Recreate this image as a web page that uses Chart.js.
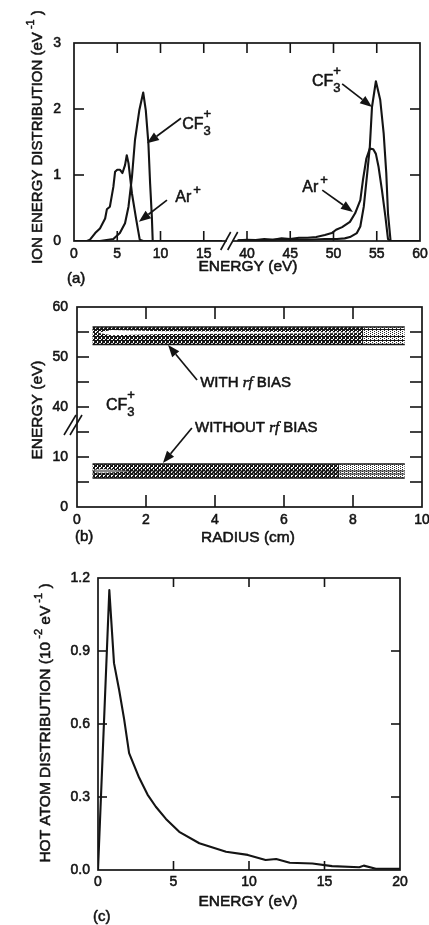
<!DOCTYPE html>
<html>
<head>
<meta charset="utf-8">
<script src="https://cdn.jsdelivr.net/npm/chart.js@4.4.1/dist/chart.umd.min.js"></script>
<style>
  html, body { margin: 0; padding: 0; background: #fff; }
  #figure { position: relative; width: 429px; height: 925px; overflow: hidden; background: #fff; }
  #figure canvas { position: absolute; left: 0; }
</style>
</head>
<body>
<div id="figure">
  <canvas id="ionChart" width="429" height="290" style="top:0"></canvas>
  <canvas id="radiusChart" width="429" height="270" style="top:290px"></canvas>
  <canvas id="hotChart" width="429" height="365" style="top:560px"></canvas>
</div>
<script>
// ---------- (a) ion energy distributions (eV, eV^-1) ----------
const arLowEnergy  = [0, 1.5, 1.85, 2.45, 3.0, 3.6, 3.8, 4.15, 4.55, 4.75, 5.0, 5.3, 5.6, 5.9, 6.1, 6.3, 6.7, 7.2, 7.6, 8.0, 17];
const arLowDist    = [0, 0, 0.02, 0.12, 0.19, 0.34, 0.48, 0.52, 0.82, 1.05, 1.08, 1.08, 1.03, 1.15, 1.30, 1.18, 0.72, 0.32, 0.02, 0, 0];
const cf3LowEnergy = [0, 3.0, 4.55, 5.3, 5.9, 6.3, 6.7, 7.05, 7.55, 8.0, 8.3, 8.6, 8.8, 9.0, 9.1, 17];
const cf3LowDist   = [0, 0, 0.03, 0.12, 0.27, 0.52, 0.97, 1.53, 1.98, 2.25, 1.98, 1.48, 0.87, 0.37, 0, 0];
const arHighEnergy = [39, 40, 41, 42, 43, 44, 45, 46, 47, 48, 49, 49.8, 50.3, 51, 51.9, 52.5, 53.1, 53.4, 53.8, 54.2, 54.6, 54.9, 55.2, 55.6, 56.0, 56.3, 56.6, 60];
const arHighDist   = [0.01, 0.02, 0.015, 0.03, 0.02, 0.04, 0.03, 0.05, 0.05, 0.06, 0.09, 0.12, 0.17, 0.21, 0.29, 0.42, 0.62, 0.92, 1.25, 1.40, 1.39, 1.32, 1.13, 0.77, 0.37, 0.03, 0, 0];
const cf3HighEnergy = [39, 41, 43, 45, 47, 49, 50.4, 51.3, 51.9, 52.7, 53.1, 53.5, 53.9, 54.2, 54.45, 54.9, 55.4, 55.8, 56.1, 56.3, 56.6, 60];
const cf3HighDist   = [0.005, 0.01, 0.02, 0.025, 0.02, 0.03, 0.03, 0.04, 0.06, 0.12, 0.22, 0.52, 1.03, 1.43, 2.03, 2.42, 2.14, 1.63, 1.03, 0.42, 0, 0];

// ---------- (b) CF3+ energy versus radius (cm, eV) ----------
const radiusSpan = [0.45, 9.5];
const withBiasEdges = [56.0, 52.5];
const withBiasContours = [55.5, 54.1, 53.3];
const withBiasCoreRadius = [0.45, 8.3];
const withBiasPeakRadius = [0.6, 1.0, 2.5, 5.0, 8.2];
const withBiasPeakTop    = [54.85, 55.4, 55.15, 55.05, 54.9];
const withBiasPeakBottom = [54.85, 54.35, 54.6, 54.65, 54.8];
const noBiasEdges = [8.6, 5.8];
const noBiasContours = [7.2, 6.6];
const noBiasCoreRadius = [0.45, 7.6];
const noBiasPeakRadius = [0.5, 0.75, 1.5];
const noBiasPeakTop    = [7.45, 7.55, 7.2];
const noBiasPeakBottom = [6.95, 6.85, 7.1];

// ---------- (c) hot atom distribution (eV, 10^-2 eV^-1) ----------
const hotEnergy = [0, 0.75, 1.06, 1.4, 1.73, 2.06, 2.72, 3.28, 3.83, 4.5, 5.38, 6.71, 8.48, 9.92, 11.1, 11.8, 12.7, 14.2, 15.5, 17.3, 17.6, 18.4, 20];
const hotDist   = [0, 1.15, 0.85, 0.74, 0.62, 0.48, 0.38, 0.31, 0.26, 0.21, 0.157, 0.11, 0.075, 0.062, 0.041, 0.045, 0.03, 0.027, 0.016, 0.011, 0.018, 0.005, 0.005];

const INK = '#141414';
const FONT = '"Liberation Sans", Arial, Helvetica, sans-serif';
const TEXT_STROKE = 0.55;

// Broken energy axis: everything above the break is shifted down by 20 eV.
const GAP = 20;
const toAxis = e => (e < 30 ? e : e - GAP);
const fromAxis = v => (v < 20 ? v : v + GAP);

function curve(xs, ys, map) {
  return {
    data: xs.map((x, i) => ({ x: map(x), y: ys[i] })),
    borderColor: INK, borderWidth: 2.1, pointRadius: 0, fill: false, tension: 0,
    borderJoinStyle: 'round', borderCapStyle: 'round'
  };
}

function pattern(size, cells, color) {
  const c = document.createElement('canvas');
  c.width = c.height = size;
  const g = c.getContext('2d');
  g.fillStyle = color;
  cells.forEach(([x, y]) => g.fillRect(x, y, 1, 1));
  return g.createPattern(c, 'repeat');
}
// cross-hatched screen for the dense part of the contours
const hatchCells = [];
for (let y = 0; y < 4; y++) for (let x = 0; x < 4; x++) if (x === y || x + y === 3 || (x + y) % 2 === 0 && y === 0) hatchCells.push([x, y]);
const DENSE = pattern(4, hatchCells, '#161616');
const LIGHT = pattern(4, [[0, 0], [2, 1], [0, 2], [2, 3]], '#2a2a2a');

function bandFill(r, top, bottom, fillStyle, order) {
  return [
    { data: r.map((x, i) => ({ x, y: toAxis(top[i]) })), fill: '+1', backgroundColor: fillStyle,
      borderColor: 'rgba(0,0,0,0)', borderWidth: 1, pointRadius: 0, tension: 0, order },
    { data: r.map((x, i) => ({ x, y: toAxis(bottom[i]) })), fill: false,
      borderColor: 'rgba(0,0,0,0)', borderWidth: 1, pointRadius: 0, tension: 0, order }
  ];
}
function level(span, e, w) {
  return { data: [{ x: span[0], y: toAxis(e) }, { x: span[1], y: toAxis(e) }],
    borderColor: INK, borderWidth: w, pointRadius: 0, fill: false, order: 0 };
}
const flat = (span, e) => span.map(() => e);

// ---------- drawing helpers ----------
function richText(ctx, parts, x, y, align) {
  const fontOf = p => `${p.italic ? 'italic ' : ''}${p.size}px ${p.family || FONT}`;
  let total = 0;
  parts.forEach(p => { ctx.font = fontOf(p); p.w = ctx.measureText(p.t).width; if (!p.stack) total += p.w + (p.gap || 0); });
  let cx = align === 'center' ? x - total / 2 : x;
  ctx.save();
  ctx.textAlign = 'left';
  ctx.fillStyle = INK; ctx.strokeStyle = INK; ctx.lineWidth = TEXT_STROKE; ctx.lineJoin = 'round';
  parts.forEach(p => {
    ctx.font = fontOf(p);
    ctx.fillText(p.t, cx, y + (p.dy || 0));
    ctx.strokeText(p.t, cx, y + (p.dy || 0));
    if (!p.stack) cx += p.w + (p.gap || 0);
  });
  ctx.restore();
}
function rotatedTitle(ctx, parts, cx, cy) {
  ctx.save();
  ctx.translate(cx, cy);
  ctx.rotate(-Math.PI / 2);
  ctx.textBaseline = 'middle';
  richText(ctx, parts, 0, 0, 'center');
  ctx.restore();
}
function arrow(ctx, x0, y0, x1, y1) {
  const a = Math.atan2(y1 - y0, x1 - x0), L = 12, W = 4.6;
  const bx = x1 - L * Math.cos(a), by = y1 - L * Math.sin(a);
  ctx.beginPath(); ctx.moveTo(x0, y0); ctx.lineTo(bx, by); ctx.stroke();
  ctx.beginPath();
  ctx.moveTo(x1, y1);
  ctx.lineTo(bx + W * Math.sin(a), by - W * Math.cos(a));
  ctx.lineTo(bx - W * Math.sin(a), by + W * Math.cos(a));
  ctx.closePath(); ctx.fill();
}
function line(ctx, x0, y0, x1, y1) { ctx.beginPath(); ctx.moveTo(x0, y0); ctx.lineTo(x1, y1); ctx.stroke(); }

const cf3Parts = [{ t: 'CF', size: 16 }, { t: '3', size: 13, dy: 6, stack: true }, { t: '+', size: 13, dy: -11 }];
const arParts = [{ t: 'Ar', size: 16, gap: 2 }, { t: '+', size: 13, dy: -8 }];

// Box, inward tick marks on all four sides, then panel-specific overlays.
function framePlugin(tickLen, overlay) {
  return {
    id: 'frame',
    afterDatasetsDraw(chart) {
      const { ctx, chartArea: a, scales: { x, y } } = chart;
      ctx.save();
      ctx.strokeStyle = INK; ctx.fillStyle = INK;
      ctx.lineWidth = 1.7; ctx.lineCap = 'butt';
      ctx.strokeRect(a.left, a.top, a.right - a.left, a.bottom - a.top);
      ctx.lineWidth = 1.6;
      x.ticks.forEach(t => {
        if (t.value <= x.min || t.value >= x.max) return;
        const p = x.getPixelForValue(t.value);
        line(ctx, p, a.bottom, p, a.bottom - tickLen);
        line(ctx, p, a.top, p, a.top + tickLen);
      });
      y.ticks.forEach(t => {
        if (t.value <= y.min || t.value >= y.max) return;
        const p = y.getPixelForValue(t.value);
        line(ctx, a.left, p, a.left + tickLen, p);
        line(ctx, a.right, p, a.right - tickLen, p);
      });
      overlay(ctx, chart, x, y);
      ctx.restore();
    }
  };
}

const tickFont = { family: FONT, size: 14 };
function baseOptions(pad, xHeight, yWidth) {
  const tickStyle = { autoSkip: false, color: INK, font: tickFont, textStrokeColor: INK, textStrokeWidth: TEXT_STROKE };
  return {
    responsive: false, animation: false, events: [],
    layout: { padding: pad },
    plugins: { legend: { display: false }, tooltip: { enabled: false } },
    elements: { line: { tension: 0 } },
    scales: {
      x: { type: 'linear', grid: { display: false, drawTicks: false }, border: { display: false },
        afterFit(s) { s.height = xHeight; s.paddingLeft = 0; s.paddingRight = 0; },
        ticks: Object.assign({ maxRotation: 0, padding: 5 }, tickStyle) },
      y: { type: 'linear', grid: { display: false, drawTicks: false }, border: { display: false },
        afterFit(s) { s.width = yWidth; s.paddingTop = 0; s.paddingBottom = 0; },
        ticks: Object.assign({ padding: 10 }, tickStyle) }
    }
  };
}

// ---------- (a) ----------
const optA = baseOptions({ left: 0, right: 9, top: 43, bottom: 0 }, 49, 74);
Object.assign(optA.scales.x, { min: 0, max: 40 });
Object.assign(optA.scales.x.ticks, { stepSize: 5, callback: v => String(fromAxis(v)) });
Object.assign(optA.scales.y, { min: 0, max: 3 });
Object.assign(optA.scales.y.ticks, { stepSize: 1, padding: 13 });

new Chart(document.getElementById('ionChart'), {
  type: 'line',
  data: { datasets: [
    curve(arLowEnergy, arLowDist, toAxis),
    curve(cf3LowEnergy, cf3LowDist, toAxis),
    curve(arHighEnergy, arHighDist, toAxis),
    curve(cf3HighEnergy, cf3HighDist, toAxis)
  ] },
  options: optA,
  plugins: [framePlugin(10, (ctx, chart, x, y) => {
    const X = v => x.getPixelForValue(v), Y = v => y.getPixelForValue(v);
    // axis break
    const bx = X(18), by = chart.chartArea.bottom;
    ctx.fillStyle = '#fff'; ctx.fillRect(bx - 3, by - 2, 6, 4);
    ctx.fillStyle = INK; ctx.lineWidth = 1.6;
    line(ctx, bx - 9, by + 9, bx + 1, by - 9);
    line(ctx, bx - 2, by + 9, bx + 8, by - 9);
    // species labels and arrows
    ctx.lineWidth = 1.7; ctx.textBaseline = 'alphabetic';
    richText(ctx, cf3Parts, X(12.5), Y(1.70));
    arrow(ctx, X(12.37), Y(1.86), X(8.44), Y(1.48));
    richText(ctx, arParts, X(11.7), Y(0.59));
    arrow(ctx, X(10.75), Y(0.62), X(7.5), Y(0.29));
    richText(ctx, cf3Parts, X(27.5), Y(2.35));
    arrow(ctx, X(31.0), Y(2.38), X(34.45), Y(2.03));
    richText(ctx, arParts, X(26.4), Y(0.74));
    arrow(ctx, X(28.7), Y(0.77), X(32.25), Y(0.44));
    // titles
    ctx.textBaseline = 'middle';
    richText(ctx, [{ t: 'ENERGY (eV)', size: 15.5 }], 248, 267, 'center');
    richText(ctx, [{ t: '(a)', size: 15 }], 67, 279);
    rotatedTitle(ctx, [{ t: 'ION ENERGY DISTRIBUTION (eV', size: 15 }, { t: ' -1', size: 11, dy: -7 }, { t: ' )', size: 15 }], 38, 137);
  })]
});

// ---------- (b) ----------
const optB = baseOptions({ left: 0, right: 7, top: 17, bottom: 0 }, 53, 77);
Object.assign(optB.scales.x, { min: 0, max: 10 });
Object.assign(optB.scales.x.ticks, { stepSize: 2 });
Object.assign(optB.scales.y, { min: 0, max: 40 });
Object.assign(optB.scales.y.ticks, { stepSize: 5, padding: 9, callback: v => (v % 10 === 0 ? String(fromAxis(v)) : '') });

const radiusSets = [
  // contour lines on top
  ...withBiasEdges.map(e => level(radiusSpan, e, 1.6)),
  ...withBiasContours.map(e => level(radiusSpan, e, 1.1)),
  ...noBiasEdges.map(e => level(radiusSpan, e, 1.6)),
  ...noBiasContours.map(e => level(radiusSpan, e, 1.1)),
  // light cores
  ...bandFill(withBiasPeakRadius, withBiasPeakTop, withBiasPeakBottom, '#ffffff', 1),
  ...bandFill(noBiasPeakRadius, noBiasPeakTop, noBiasPeakBottom, '#ffffff', 1),
  // dense shading
  ...bandFill(withBiasCoreRadius, flat(withBiasCoreRadius, withBiasEdges[0]), flat(withBiasCoreRadius, withBiasEdges[1]), DENSE, 2),
  ...bandFill(noBiasCoreRadius, flat(noBiasCoreRadius, noBiasEdges[0]), flat(noBiasCoreRadius, noBiasEdges[1]), DENSE, 2),
  // faint shading across the whole span
  ...bandFill(radiusSpan, flat(radiusSpan, withBiasEdges[0]), flat(radiusSpan, withBiasEdges[1]), LIGHT, 3),
  ...bandFill(radiusSpan, flat(radiusSpan, noBiasEdges[0]), flat(radiusSpan, noBiasEdges[1]), LIGHT, 3)
];

new Chart(document.getElementById('radiusChart'), {
  type: 'line',
  data: { datasets: radiusSets },
  options: optB,
  plugins: [framePlugin(12, (ctx, chart, x, y) => {
    const X = v => x.getPixelForValue(v), Y = v => y.getPixelForValue(v);
    // axis break on the energy axis
    const bx = chart.chartArea.left, by = Y(16.4);
    ctx.lineWidth = 1.6;
    line(ctx, bx - 13, by + 10, bx - 1, by - 10);
    line(ctx, bx - 7, by + 10, bx + 5, by - 10);
    ctx.textBaseline = 'alphabetic';
    richText(ctx, cf3Parts, X(0.84), Y(19.4));
    ctx.lineWidth = 1.7;
    const rf = { t: 'rf', size: 15, italic: true, family: '"Liberation Serif", serif' };
    richText(ctx, [{ t: 'WITH ', size: 15 }, rf, { t: ' BIAS', size: 15 }], X(3.57), Y(24.0));
    arrow(ctx, X(3.48), Y(25.4), X(2.64), Y(32.4));
    richText(ctx, [{ t: 'WITHOUT ', size: 15 }, Object.assign({}, rf), { t: ' BIAS', size: 15 }], X(3.42), Y(15.0));
    arrow(ctx, X(3.33), Y(15.8), X(2.49), Y(8.8));
    ctx.textBaseline = 'middle';
    richText(ctx, [{ t: 'RADIUS (cm)', size: 15.5 }], 248, 248, 'center');
    richText(ctx, [{ t: '(b)', size: 15 }], 75, 247);
    rotatedTitle(ctx, [{ t: 'ENERGY (eV)', size: 15.5 }], 38, 120);
  })]
});

// ---------- (c) ----------
const optC = baseOptions({ left: 0, right: 29, top: 18, bottom: 0 }, 55, 98);
Object.assign(optC.scales.x, { min: 0, max: 20 });
Object.assign(optC.scales.x.ticks, { stepSize: 5, padding: 4 });
Object.assign(optC.scales.y, { min: 0, max: 1.2 });
Object.assign(optC.scales.y.ticks, { stepSize: 0.3, padding: 8, callback: v => v.toFixed(1) });

new Chart(document.getElementById('hotChart'), {
  type: 'line',
  data: { datasets: [curve(hotEnergy, hotDist, e => e)] },
  options: optC,
  plugins: [framePlugin(9, (ctx) => {
    ctx.textBaseline = 'middle';
    richText(ctx, [{ t: 'ENERGY (eV)', size: 15.5 }], 248, 342, 'center');
    richText(ctx, [{ t: '(c)', size: 15 }], 93, 357);
    rotatedTitle(ctx, [
      { t: 'HOT ATOM DISTRIBUTION (10', size: 15.5 }, { t: ' -2', size: 11, dy: -7 },
      { t: ' eV', size: 15.5 }, { t: ' -1', size: 11, dy: -7 }, { t: ' )', size: 15.5 }
    ], 46, 163);
  })]
});
</script>
</body>
</html>
